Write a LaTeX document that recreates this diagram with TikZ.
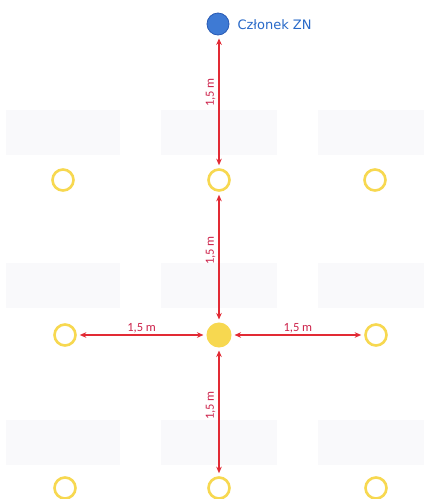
\documentclass[tikz,border=0pt]{standalone}
\usepackage{fontspec}
\setmainfont{DejaVu Sans}
\newfontfamily\labfont{Carlito}
\usetikzlibrary{arrows.meta}
\definecolor{ycol}{RGB}{247,216,80}
\definecolor{bfill}{RGB}{62,122,212}
\definecolor{bline}{RGB}{40,90,180}
\definecolor{btext}{RGB}{40,105,200}
\definecolor{rcol}{RGB}{226,42,52}
\definecolor{ltext}{RGB}{205,35,75}
\definecolor{desk}{RGB}{249,249,251}
\tikzset{
  seat/.style={circle,draw=ycol,line width=2.6pt,minimum size=21pt,inner sep=0pt},
  seatfull/.style={circle,fill=ycol,draw=ycol,line width=1pt,minimum size=24pt,inner sep=0pt},
  member/.style={circle,fill=bfill,draw=bline,line width=0.8pt,minimum size=22pt,inner sep=0pt},
  dist/.style={draw=rcol,line width=2pt,{Stealth[length=6.5pt,width=5.5pt]}-{Stealth[length=6.5pt,width=5.5pt]},shorten <=3pt,shorten >=3pt},
  dlab/.style={text=ltext,font=\labfont\fontsize{12.5}{13}\selectfont,inner sep=2.5pt},
  deskbox/.style={fill=desk,draw=none}
}
\begin{document}
\begin{tikzpicture}[x=1pt,y=-1pt]
\useasboundingbox[fill=white] (0,0) rectangle (424,499);
% faint desks
\foreach \yy in {110,263,420}{
  \fill[deskbox] (6,\yy) rectangle (120,\yy+45);
  \fill[deskbox] (161,\yy) rectangle (277,\yy+45);
  \fill[deskbox] (318,\yy) rectangle (424,\yy+45);
}
\node[member] (zn) at (218,24) {};
\node[anchor=west,text=btext,font=\fontsize{13}{15}\selectfont] (znl) at (234,24.5) {Członek ZN};
\node[seat] (a1) at (63,180) {};
\node[seat] (a2) at (219,180) {};
\node[seat] (a3) at (375,180) {};
\node[seat] (b1) at (65,335) {};
\node[seatfull] (b2) at (219,335) {};
\node[seat] (b3) at (376,335) {};
\node[seat] (c1) at (65,488) {};
\node[seat] (c2) at (219,488) {};
\node[seat] (c3) at (376,488) {};
\draw[dist] (zn.south -| a2) -- node[dlab,rotate=90,anchor=south,pos=0.43] {1,5 m} (a2);
\draw[dist] (a2) -- node[dlab,rotate=90,anchor=south,pos=0.45] {1,5 m} (b2);
\draw[dist] (b2) -- node[dlab,rotate=90,anchor=south,pos=0.45] {1,5 m} (c2);
\draw[dist] (b1) -- node[dlab,anchor=south,inner sep=1pt] {1,5 m} (b2);
\draw[dist] (b2) -- node[dlab,anchor=south,inner sep=1pt] {1,5 m} (b3);
\end{tikzpicture}
\end{document}
